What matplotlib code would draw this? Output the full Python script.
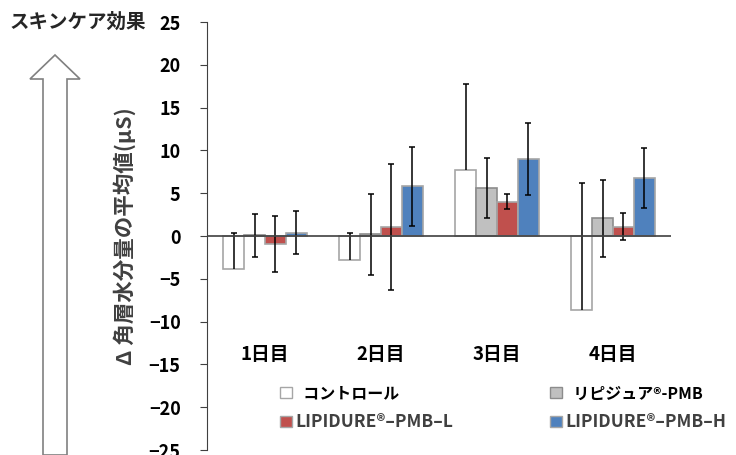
import matplotlib.pyplot as plt
import numpy as np
from matplotlib.patches import Polygon, Patch

plt.rcParams['font.family'] = ['Noto Sans CJK JP', 'DejaVu Sans']

# Data
days = ["1日目", "2日目", "3日目", "4日目"]
series = ["コントロール", "リピジュア®-PMB", "LIPIDURE®–PMB–L", "LIPIDURE®–PMB–H"]
control = [-3.8, -2.8, 7.7, -8.7]
control_err = [4.2, 3.1, 10.1, 14.9]
pmb = [0.1, 0.2, 5.6, 2.1]
pmb_err = [2.5, 4.7, 3.5, 4.5]
pmb_l = [-0.95, 1.05, 4.0, 1.1]
pmb_l_err = [3.3, 7.4, 0.9, 1.55]
pmb_h = [0.4, 5.8, 9.0, 6.75]
pmb_h_err = [2.55, 4.6, 4.2, 3.5]

colors = ["#ffffff", "#c0c0c0", "#c0504d", "#4f81bd"]
edges = ["#a6a6a6", "#8c8c8c", "#a6a6a6", "#a6a6a6"]

fig = plt.figure(figsize=(7.36, 4.55), dpi=100)
ax = fig.add_axes([207 / 736, 5 / 455, 464 / 736, 428 / 455])

x = np.arange(len(days))
w = 0.18
vals = [control, pmb, pmb_l, pmb_h]
errs = [None, pmb_err, pmb_l_err, pmb_h_err]
ekw = dict(ecolor="black", elinewidth=1.1, capsize=2.5, capthick=1.1)
for k in range(4):
    xs = x + (k - 1.5) * w
    ax.bar(xs, vals[k], w, color=colors[k], edgecolor=edges[k], linewidth=1.2,
           yerr=errs[k], error_kw=ekw, zorder=2)

# control: plus-direction error bars only, cap at the top end
xs = x - 1.5 * w
tops = np.array(control) + np.array(control_err)
ax.vlines(xs, control, tops, color="black", lw=1.1, zorder=3)
ax.plot(xs, tops, ls="none", marker="_", ms=5, mew=1.1, color="black", zorder=3)

ax.axhline(0, color="#404040", lw=1.2, zorder=3)
ax.set_xlim(-0.5, 3.5)
ax.set_ylim(-25, 25)
ax.set_yticks(range(-25, 26, 5))
ax.set_xticks([])
for s in ["top", "right", "bottom"]:
    ax.spines[s].set_visible(False)
ax.spines["left"].set_color("#404040")
ax.tick_params(axis="y", direction="out", length=5, color="#404040", labelsize=13, pad=14)
for t in ax.get_yticklabels():
    t.set_fontweight("bold")

for i, d in enumerate(days):
    ax.text(i, -13.9, d, ha="center", va="center", fontsize=13.5, fontweight="bold")

ax.set_ylabel("Δ 角層水分量の平均値(μS)", fontsize=15.5, fontweight="bold", color="#404040", labelpad=9)

fig.text(10 / 736, 1 - 22 / 455, "スキンケア効果", fontsize=14, fontweight="bold",
         ha="left", va="center", color="#262626")

# outlined arrow on the left
pts = [(43, 455), (43, 79), (30, 79), (55, 55), (80, 79), (67, 79), (67, 455)]
arrow = Polygon([(px / 736, 1 - py / 455) for px, py in pts], closed=True,
                transform=fig.transFigure, facecolor="white", edgecolor="#808080", lw=1.2)
fig.add_artist(arrow)

handles = [Patch(facecolor=colors[k], edgecolor=edges[k]) for k in range(4)]
labels = ["  " + series[0], "  " + series[1], series[2], series[3]]
for (top_i, bot_i), anchor_x in (((0, 2), 266), ((1, 3), 536)):
    leg = fig.legend([handles[top_i], handles[bot_i]], [labels[top_i], labels[bot_i]],
                     loc="upper left", bbox_to_anchor=(anchor_x / 736, 1 - 371 / 455),
                     frameon=False, fontsize=11.5, handlelength=0.7, handleheight=0.7,
                     handletextpad=0.25, labelspacing=0.75)
    for t in leg.get_texts():
        t.set_fontweight("bold")
        if t.get_text().startswith("LIPIDURE"):
            t.set_color("#404040")
            t.set_fontsize(12.5)

fig.savefig("out.png", dpi=100)
